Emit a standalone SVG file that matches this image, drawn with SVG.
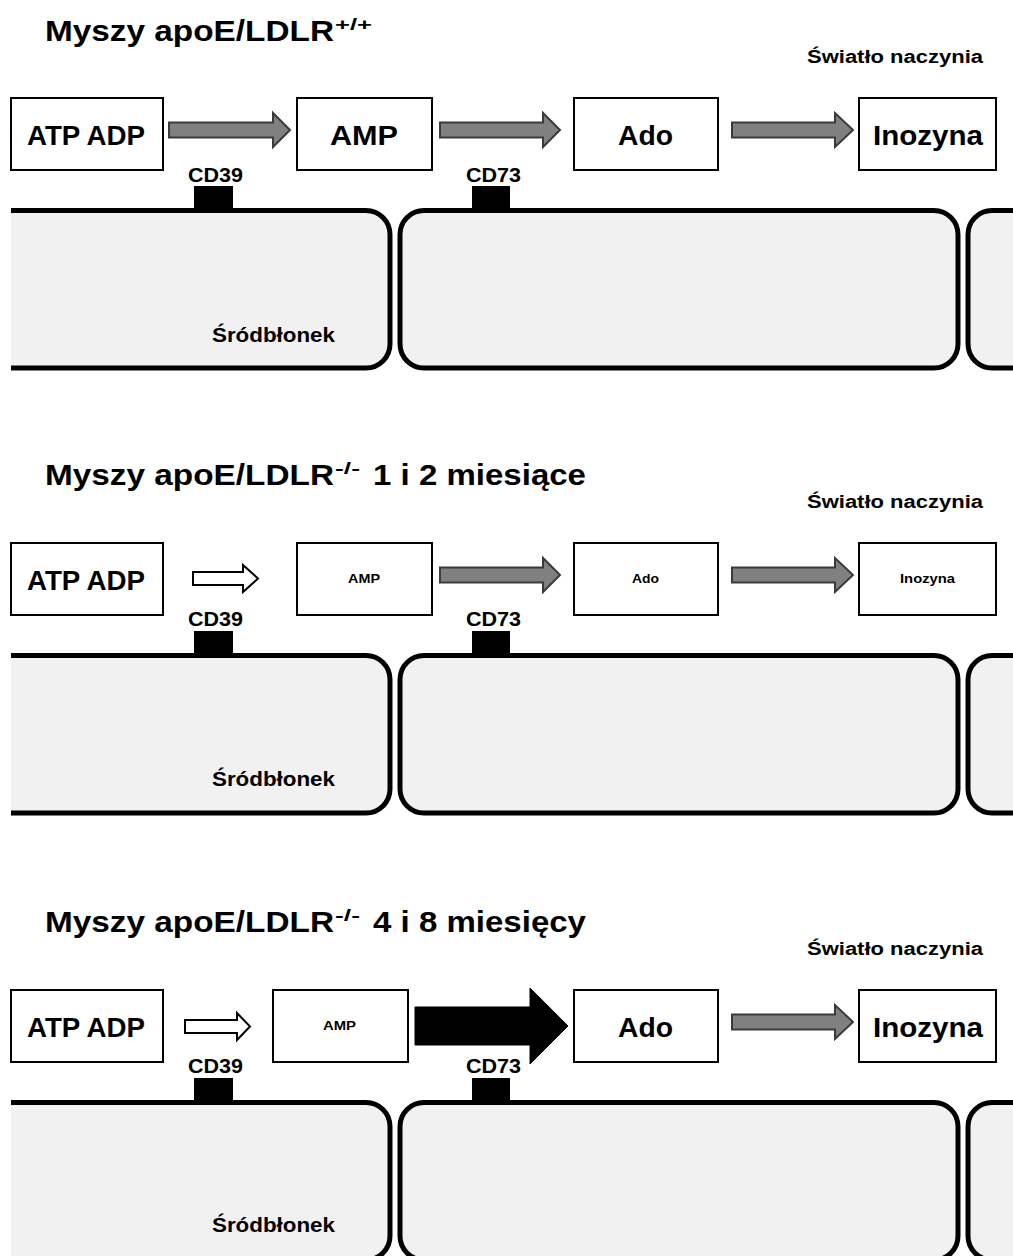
<svg xmlns="http://www.w3.org/2000/svg" width="1013" height="1256" viewBox="0 0 1013 1256">
<style>
.title{font-family:"Liberation Sans",Arial,sans-serif;font-weight:bold;font-size:30px;fill:#000}
.sup{font-family:"Liberation Sans",Arial,sans-serif;font-weight:bold;font-size:17px;fill:#000}
.lbl{font-family:"Liberation Sans",Arial,sans-serif;font-weight:bold;fill:#000}
.big{font-size:27px}
.small{font-size:13px}
.cd{font-size:20px}
.box{fill:#fff;stroke:#000;stroke-width:2}
.cellfill{fill:#f1f1f1;stroke:none}
.cellline{fill:none;stroke:#000;stroke-width:5}
.gray{fill:#808080;stroke:#3a3a3a;stroke-width:2;stroke-linejoin:miter}
.white{fill:#fff;stroke:#000;stroke-width:2}
.black{fill:#000;stroke:#000;stroke-width:1}
.prot{fill:#000}
</style>
<rect x="0" y="0" width="1013" height="1256" fill="#fff"/>

<!-- ===== Panel 1 ===== -->
<g id="panel1">
  <g id="p1-title">
    <text class="title" x="45" y="41" textLength="289" lengthAdjust="spacingAndGlyphs">Myszy apoE/LDLR</text>
    <text class="sup" x="335" y="30" textLength="37" lengthAdjust="spacingAndGlyphs">+/+</text>
  </g>
  <text id="p1-lumen" class="lbl" x="807" y="63" font-size="18" textLength="176" lengthAdjust="spacingAndGlyphs">Światło naczynia</text>
  <g id="p1-cells">
    <path class="cellfill" d="M11,210.5 H366 A24,24 0 0 1 390,234.5 V344 A24,24 0 0 1 366,368 H11 Z"/>
    <path class="cellline" d="M11,210.5 H366 A24,24 0 0 1 390,234.5 V344 A24,24 0 0 1 366,368 H11"/>
    <path class="cellfill" d="M424,210.5 H934 A24,24 0 0 1 958,234.5 V344 A24,24 0 0 1 934,368 H424 A24,24 0 0 1 400,344 V234.5 A24,24 0 0 1 424,210.5 Z"/>
    <path class="cellline" d="M424,210.5 H934 A24,24 0 0 1 958,234.5 V344 A24,24 0 0 1 934,368 H424 A24,24 0 0 1 400,344 V234.5 A24,24 0 0 1 424,210.5 Z"/>
    <path class="cellfill" d="M1020,210.5 H992 A24,24 0 0 0 968,234.5 V344 A24,24 0 0 0 992,368 H1020 Z"/>
    <path class="cellline" d="M1020,210.5 H992 A24,24 0 0 0 968,234.5 V344 A24,24 0 0 0 992,368 H1020"/>
    <text class="lbl cd" x="212" y="342" textLength="123" lengthAdjust="spacingAndGlyphs">Śródbłonek</text>
  </g>
  <g id="p1-cd39"><rect class="prot" x="194" y="186" width="39" height="24"/><text class="lbl cd" x="188" y="182" textLength="55" lengthAdjust="spacingAndGlyphs">CD39</text></g>
  <g id="p1-cd73"><rect class="prot" x="472" y="186" width="38" height="24"/><text class="lbl cd" x="466" y="182" textLength="55" lengthAdjust="spacingAndGlyphs">CD73</text></g>
  <g id="p1-atp"><rect class="box" x="11" y="98" width="152" height="72"/><text class="lbl big" x="27" y="145" textLength="118" lengthAdjust="spacingAndGlyphs">ATP ADP</text></g>
  <g id="p1-amp"><rect class="box" x="297" y="98" width="135" height="72"/><text class="lbl big" x="330" y="145" textLength="68" lengthAdjust="spacingAndGlyphs">AMP</text></g>
  <g id="p1-ado"><rect class="box" x="574" y="98" width="144" height="72"/><text class="lbl big" x="618" y="145" textLength="55" lengthAdjust="spacingAndGlyphs">Ado</text></g>
  <g id="p1-ino"><rect class="box" x="859" y="98" width="137" height="72"/><text class="lbl big" x="873" y="145" textLength="110" lengthAdjust="spacingAndGlyphs">Inozyna</text></g>
</g>

<!-- ===== Panel 2 ===== -->
<g id="panel2" transform="translate(0,445)">
  <g id="p2-title">
    <text class="title" x="45" y="40" textLength="289" lengthAdjust="spacingAndGlyphs">Myszy apoE/LDLR</text>
    <text class="sup" x="335" y="29" textLength="25" lengthAdjust="spacingAndGlyphs">-/-</text>
    <text class="title" x="373" y="40" textLength="213" lengthAdjust="spacingAndGlyphs">1 i 2 miesiące</text>
  </g>
  <text id="p2-lumen" class="lbl" x="807" y="63" font-size="18" textLength="176" lengthAdjust="spacingAndGlyphs">Światło naczynia</text>
  <g id="p2-cells">
    <path class="cellfill" d="M11,210.5 H366 A24,24 0 0 1 390,234.5 V344 A24,24 0 0 1 366,368 H11 Z"/>
    <path class="cellline" d="M11,210.5 H366 A24,24 0 0 1 390,234.5 V344 A24,24 0 0 1 366,368 H11"/>
    <path class="cellfill" d="M424,210.5 H934 A24,24 0 0 1 958,234.5 V344 A24,24 0 0 1 934,368 H424 A24,24 0 0 1 400,344 V234.5 A24,24 0 0 1 424,210.5 Z"/>
    <path class="cellline" d="M424,210.5 H934 A24,24 0 0 1 958,234.5 V344 A24,24 0 0 1 934,368 H424 A24,24 0 0 1 400,344 V234.5 A24,24 0 0 1 424,210.5 Z"/>
    <path class="cellfill" d="M1020,210.5 H992 A24,24 0 0 0 968,234.5 V344 A24,24 0 0 0 992,368 H1020 Z"/>
    <path class="cellline" d="M1020,210.5 H992 A24,24 0 0 0 968,234.5 V344 A24,24 0 0 0 992,368 H1020"/>
    <text class="lbl cd" x="212" y="341" textLength="123" lengthAdjust="spacingAndGlyphs">Śródbłonek</text>
  </g>
  <g id="p2-cd39"><rect class="prot" x="194" y="186" width="39" height="24"/><text class="lbl cd" x="188" y="181" textLength="55" lengthAdjust="spacingAndGlyphs">CD39</text></g>
  <g id="p2-cd73"><rect class="prot" x="472" y="186" width="38" height="24"/><text class="lbl cd" x="466" y="181" textLength="55" lengthAdjust="spacingAndGlyphs">CD73</text></g>
  <g id="p2-atp"><rect class="box" x="11" y="98" width="152" height="72"/><text class="lbl big" x="27" y="145" textLength="118" lengthAdjust="spacingAndGlyphs">ATP ADP</text></g>
  <g id="p2-amp"><rect class="box" x="297" y="98" width="135" height="72"/><text class="lbl small" x="348" y="138" textLength="32" lengthAdjust="spacingAndGlyphs">AMP</text></g>
  <g id="p2-ado"><rect class="box" x="574" y="98" width="144" height="72"/><text class="lbl small" x="632" y="138" textLength="27" lengthAdjust="spacingAndGlyphs">Ado</text></g>
  <g id="p2-ino"><rect class="box" x="859" y="98" width="137" height="72"/><text class="lbl small" x="900" y="138" textLength="55" lengthAdjust="spacingAndGlyphs">Inozyna</text></g>
</g>

<!-- ===== Panel 3 ===== -->
<g id="panel3" transform="translate(0,892)">
  <g id="p3-title">
    <text class="title" x="45" y="40" textLength="289" lengthAdjust="spacingAndGlyphs">Myszy apoE/LDLR</text>
    <text class="sup" x="335" y="29" textLength="25" lengthAdjust="spacingAndGlyphs">-/-</text>
    <text class="title" x="373" y="40" textLength="213" lengthAdjust="spacingAndGlyphs">4 i 8 miesięcy</text>
  </g>
  <text id="p3-lumen" class="lbl" x="807" y="63" font-size="18" textLength="176" lengthAdjust="spacingAndGlyphs">Światło naczynia</text>
  <g id="p3-cells">
    <path class="cellfill" d="M11,210.5 H366 A24,24 0 0 1 390,234.5 V344 A24,24 0 0 1 366,368 H11 Z"/>
    <path class="cellline" d="M11,210.5 H366 A24,24 0 0 1 390,234.5 V344 A24,24 0 0 1 366,368 H11"/>
    <path class="cellfill" d="M424,210.5 H934 A24,24 0 0 1 958,234.5 V344 A24,24 0 0 1 934,368 H424 A24,24 0 0 1 400,344 V234.5 A24,24 0 0 1 424,210.5 Z"/>
    <path class="cellline" d="M424,210.5 H934 A24,24 0 0 1 958,234.5 V344 A24,24 0 0 1 934,368 H424 A24,24 0 0 1 400,344 V234.5 A24,24 0 0 1 424,210.5 Z"/>
    <path class="cellfill" d="M1020,210.5 H992 A24,24 0 0 0 968,234.5 V344 A24,24 0 0 0 992,368 H1020 Z"/>
    <path class="cellline" d="M1020,210.5 H992 A24,24 0 0 0 968,234.5 V344 A24,24 0 0 0 992,368 H1020"/>
    <text class="lbl cd" x="212" y="340" textLength="123" lengthAdjust="spacingAndGlyphs">Śródbłonek</text>
  </g>
  <g id="p3-cd39"><rect class="prot" x="194" y="186" width="39" height="24"/><text class="lbl cd" x="188" y="181" textLength="55" lengthAdjust="spacingAndGlyphs">CD39</text></g>
  <g id="p3-cd73"><rect class="prot" x="472" y="186" width="38" height="24"/><text class="lbl cd" x="466" y="181" textLength="55" lengthAdjust="spacingAndGlyphs">CD73</text></g>
  <g id="p3-atp"><rect class="box" x="11" y="98" width="152" height="72"/><text class="lbl big" x="27" y="145" textLength="118" lengthAdjust="spacingAndGlyphs">ATP ADP</text></g>
  <g id="p3-amp"><rect class="box" x="273" y="98" width="135" height="72"/><text class="lbl small" x="323" y="138" textLength="33" lengthAdjust="spacingAndGlyphs">AMP</text></g>
  <g id="p3-ado"><rect class="box" x="574" y="98" width="144" height="72"/><text class="lbl big" x="618" y="145" textLength="55" lengthAdjust="spacingAndGlyphs">Ado</text></g>
  <g id="p3-ino"><rect class="box" x="859" y="98" width="137" height="72"/><text class="lbl big" x="873" y="145" textLength="110" lengthAdjust="spacingAndGlyphs">Inozyna</text></g>
</g>

<!-- ===== Connectors ===== -->
<g id="connectors">
  <g transform="translate(0,0)">
    <polygon class="gray" points="169,122.5 273,122.5 273,113 290,130 273,147 273,137.5 169,137.5"/>
    <polygon class="gray" points="440,122.5 543,122.5 543,113 560,130 543,147 543,137.5 440,137.5"/>
    <polygon class="gray" points="732,122.5 835,122.5 835,113 853,130 835,147 835,137.5 732,137.5"/>
  </g>
  <g transform="translate(0,445)">
    <polygon class="white" points="193,127 243,127 243,120 258,133.5 243,147 243,140 193,140"/>
    <polygon class="gray" points="440,122.5 543,122.5 543,113 560,130 543,147 543,137.5 440,137.5"/>
    <polygon class="gray" points="732,122.5 835,122.5 835,113 853,130 835,147 835,137.5 732,137.5"/>
  </g>
  <g transform="translate(0,892)">
    <polygon class="white" points="185,128 237,128 237,121 250,134.5 237,148 237,141 185,141"/>
    <polygon class="black" points="415,115 530,115 530,96 568,134 530,172 530,153 415,153"/>
    <polygon class="gray" points="732,122.5 835,122.5 835,113 853,130 835,147 835,137.5 732,137.5"/>
  </g>
</g>
</svg>
